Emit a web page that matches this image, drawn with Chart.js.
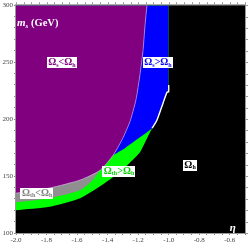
<!DOCTYPE html>
<html lang="en">
<head>
<meta charset="UTF-8">
<title>Relic density regions</title>
<script src="https://cdn.jsdelivr.net/npm/chart.js"></script>
<style>
  html, body { margin: 0; padding: 0; background: #fff; }
  #box { width: 250px; height: 247px; }
</style>
</head>
<body>
<div id="box"><canvas id="regions"></canvas></div>
<script>
// region boundaries (eta, m_s in GeV)
// purple: above this curve
const purpleEta = [-2.0, -1.78, -1.58, -1.45, -1.365, -1.305, -1.253, -1.214, -1.188, -1.168, -1.155, -1.142];
const purpleM   = [135, 139.5, 146.5, 155, 168, 182, 198, 217, 239, 260, 282, 300];
// gray: above this curve (merges into the purple edge)
const grayEta = [-2.0, -1.78, -1.58, -1.5, -1.45, -1.365, -1.305, -1.253, -1.214, -1.188, -1.168, -1.155, -1.142];
const grayM   = [127, 130.5, 137.5, 146, 155, 168, 182, 198, 217, 239, 260, 282, 300];
// blue: above this curve
const blueEta = [-2.0, -1.78, -1.58, -1.45, -1.365, -1.286, -1.188, -1.109, -1.077, -1.037, -1.011, -1.0, -1.0];
const blueM   = [135, 139.5, 146.5, 155, 168, 174.5, 184, 192, 199, 214, 223.5, 229, 300];
// green: above this curve (edge of the black region)
const greenEta = [-2.0, -1.78, -1.58, -1.45, -1.365, -1.30, -1.253, -1.188, -1.122, -1.077, -1.037, -1.011, -1.0, -1.0];
const greenM   = [120, 123, 130.5, 141, 149, 156, 162, 171, 188.5, 199, 214, 223.5, 229, 300];
// thin white edge between blue and black
const edgeEta = [-1.109, -1.077, -1.037, -1.011, -1.0, -1.0];
const edgeM   = [192, 199, 214, 223.5, 224, 230];

const xTicksMajor = [-2.0, -1.8, -1.6, -1.4, -1.2, -1.0, -0.8, -0.6];
const yTicksMajor = [100, 150, 200, 250, 300];

const pts = (xs, ys) => xs.map((x, i) => ({ x: x, y: ys[i] }));

function region(label, xs, ys, color, order, border) {
  return {
    label: label,
    data: pts(xs, ys),
    backgroundColor: color,
    borderColor: border || color,
    borderWidth: border ? 0.8 : 0,
    fill: 'end',
    pointRadius: 0,
    tension: 0.2,
    order: order
  };
}

const isMajor = (v, list) => list.some(t => Math.abs(t - v) < 1e-6);

// labels drawn with subscripts
const notes = [
  { eta: -1.699, m: 249.6, color: '#800080', parts: [['Ω'], ['s', 1], ['<'], ['Ω'], ['h', 1]] },
  { eta: -1.07, m: 249.6, color: '#0000ff', parts: [['Ω'], ['s', 1], ['>'], ['Ω'], ['h', 1]] },
  { eta: -1.862, m: 135.1, color: '#808080', parts: [['Ω'], ['th', 1], ['<'], ['Ω'], ['h', 1]] },
  { eta: -1.325, m: 154.4, color: '#00d000', parts: [['Ω'], ['th', 1], ['>'], ['Ω'], ['h', 1]] },
  { eta: -0.86, m: 159.7, color: '#000000', parts: [['Ω'], ['h', 1]] }
];

function drawRich(ctx, parts, x, y, size, color, bg) {
  const main = 'bold ' + size + 'px "Liberation Serif"';
  const sub = 'bold ' + Math.round(size * 0.62) + 'px "Liberation Serif"';
  let w = 0;
  const widths = parts.map(p => {
    ctx.font = p[1] ? sub : main;
    const pw = ctx.measureText(p[0]).width;
    w += pw;
    return pw;
  });
  let cx = x - w / 2;
  if (bg) {
    ctx.fillStyle = bg;
    ctx.fillRect(Math.round(cx - 1.5), Math.round(y - size / 2 - 0.5), Math.round(w + 3), size + 1);
  }
  ctx.fillStyle = color;
  ctx.textBaseline = 'middle';
  ctx.textAlign = 'left';
  parts.forEach((p, i) => {
    ctx.font = p[1] ? sub : main;
    ctx.fillText(p[0], cx, p[1] ? y + size * 0.28 : y);
    cx += widths[i];
  });
}

const backdrop = {
  id: 'backdrop',
  beforeDatasetsDraw(chart) {
    const a = chart.chartArea, ctx = chart.ctx;
    ctx.save();
    ctx.fillStyle = '#000';
    ctx.fillRect(a.left, a.top, a.right - a.left, a.bottom - a.top);
    ctx.restore();
  }
};

const framePlugin = {
  id: 'frame',
  afterDraw(chart) {
    const ctx = chart.ctx, a = chart.chartArea;
    const xs = chart.scales.x, ys = chart.scales.y;
    ctx.save();
    ctx.strokeStyle = '#999';
    ctx.lineWidth = 1;
    ctx.strokeRect(a.left - 0.5, a.top - 0.5, a.right - a.left + 1, a.bottom - a.top + 1);
    ctx.beginPath();
    xs.ticks.forEach(t => {
      const px = Math.round(xs.getPixelForValue(t.value)) + 0.5;
      ctx.moveTo(px, a.top - 1); ctx.lineTo(px, a.top - 3);
    });
    ys.ticks.forEach(t => {
      const py = Math.round(ys.getPixelForValue(t.value)) + 0.5;
      ctx.moveTo(a.right + 1, py); ctx.lineTo(a.right + 3, py);
    });
    ctx.stroke();

    notes.forEach(n => {
      drawRich(ctx, n.parts, xs.getPixelForValue(n.eta), ys.getPixelForValue(n.m), 10, n.color, '#fff');
    });

    // axis names inside the frame
    let x0 = xs.getPixelForValue(-1.993), y0 = ys.getPixelForValue(284);
    ctx.fillStyle = '#fff';
    ctx.textBaseline = 'middle';
    ctx.textAlign = 'left';
    ctx.font = 'bold italic 11px "Liberation Serif"';
    ctx.fillText('m', x0, y0);
    x0 += ctx.measureText('m').width;
    ctx.font = 'bold italic 7px "Liberation Serif"';
    ctx.fillText('s', x0, y0 + 3);
    x0 += ctx.measureText('s').width;
    ctx.font = 'bold 10.5px "Liberation Serif"';
    ctx.fillText(' (GeV)', x0, y0);
    ctx.font = 'bold italic 11px "Liberation Serif"';
    ctx.textAlign = 'center';
    ctx.fillText('η', xs.getPixelForValue(-0.58), ys.getPixelForValue(104));
    ctx.restore();
  }
};

new Chart(document.getElementById('regions'), {
  type: 'line',
  data: {
    datasets: [
      {
        label: 'edge',
        data: pts(edgeEta, edgeM),
        borderColor: '#ffffff',
        borderWidth: 1.4,
        fill: false,
        pointRadius: 0,
        tension: 0.2,
        order: 0
      },
      region('purple', purpleEta, purpleM, '#800080', 1, 'rgba(230,200,255,0.7)'),
      region('gray', grayEta, grayM, '#8f8f8f', 2),
      region('blue', blueEta, blueM, '#0000ff', 3),
      region('green', greenEta, greenM, '#00ff00', 4)
    ]
  },
  options: {
    responsive: true,
    maintainAspectRatio: false,
    animation: false,
    layout: { padding: { top: 5, right: 5, left: 0, bottom: 0 } },
    plugins: { legend: { display: false }, tooltip: { enabled: false } },
    scales: {
      x: {
        type: 'linear',
        min: -2.0,
        max: -0.5,
        z: 1,
        afterFit: s => { s.height = 14; },
        ticks: {
          stepSize: 0.05,
          autoSkip: false,
          maxRotation: 0,
          padding: 1,
          color: '#444',
          font: { family: 'Liberation Serif', size: 7 },
          callback: v => (isMajor(v, xTicksMajor) ? v.toFixed(1) : '')
        },
        grid: {
          color: c => {
            const v = c.tick ? c.tick.value : 0;
            if (Math.abs(v + 1) < 1e-6) return 'rgba(255,255,255,0.4)';
            return isMajor(v, xTicksMajor) ? 'rgba(255,255,255,0.1)' : 'rgba(0,0,0,0)';
          },
          tickColor: '#888',
          tickLength: 2
        },
        border: { color: '#999' }
      },
      y: {
        min: 100,
        max: 300,
        z: 1,
        afterFit: s => { s.width = 16; },
        ticks: {
          stepSize: 10,
          autoSkip: false,
          padding: 1,
          color: '#444',
          font: { family: 'Liberation Serif', size: 7 },
          callback: v => (isMajor(v, yTicksMajor) ? String(v) : '')
        },
        grid: {
          color: c => {
            const v = c.tick ? c.tick.value : 0;
            return isMajor(v, yTicksMajor) ? 'rgba(255,255,255,0.1)' : 'rgba(0,0,0,0)';
          },
          tickColor: '#888',
          tickLength: 2
        },
        border: { color: '#999' }
      }
    }
  },
  plugins: [backdrop, framePlugin]
});
</script>
</body>
</html>
